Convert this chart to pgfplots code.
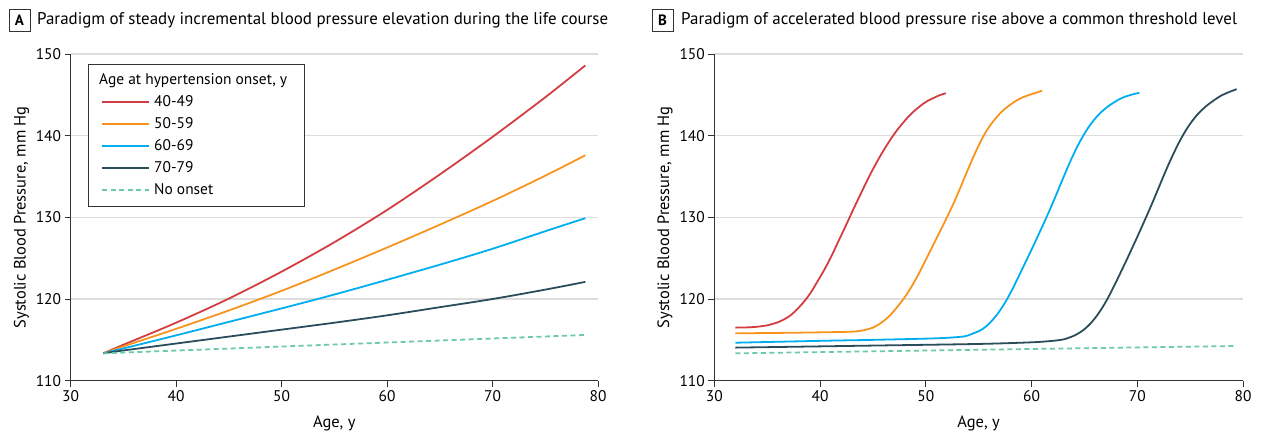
\documentclass[border=0pt]{standalone}
\usepackage{fontspec}
\setmainfont{PT Sans}
\usepackage{pgfplots}
\pgfplotsset{compat=1.18}
\definecolor{cred}{HTML}{D33D42}
\definecolor{corange}{HTML}{F7941D}
\definecolor{cblue}{HTML}{00AEEF}
\definecolor{cdark}{HTML}{2B4C5A}
\definecolor{cgreen}{HTML}{6CCBA6}
\definecolor{cgrid}{HTML}{DDDDDD}
\definecolor{caxis}{HTML}{333333}
\pgfplotsset{
  myaxis/.style={
    scale only axis, width=527.4bp, height=326.7bp,
    xmin=30, xmax=80, ymin=110, ymax=150,
    xtick={30,40,...,80}, ytick={110,120,...,150},
    axis x line*=bottom, axis y line*=left,
    axis line style={caxis, line width=0.9pt, -},
    tick style={caxis, line width=0.9pt},
    major tick length=6bp, tick align=outside,
    ymajorgrids, grid style={cgrid, line width=1.1pt},
    ticklabel style={font=\fontsize{15.5}{18}\selectfont},
    /pgf/number format/assume math mode=true,
    label style={font=\fontsize{16.5}{18}\selectfont},
    xlabel style={yshift=-8bp},
    xlabel={Age, y}, ylabel={Systolic Blood Pressure, mm Hg},
    every axis plot/.append style={line width=1.8pt, smooth},
  },
}
\begin{document}
\begin{tikzpicture}
\useasboundingbox (0,0) rectangle (1262bp,434bp);
% Panel A
\begin{axis}[myaxis, at={(70.6bp,53.3bp)}, anchor=south west,
  legend style={at={(0.033,0.9694)}, anchor=north west, draw=caxis, line width=0.8pt,
    inner xsep=13bp, inner ysep=5bp, row sep=0pt,
    nodes={font=\fontsize{15.5}{18}\selectfont, text height=11bp, text depth=3bp, inner sep=4bp}},
  legend cell align=left,
  legend image code/.code={\draw[#1, line width=1.8pt] (0bp,0bp) -- (47bp,0bp);},
]
\addlegendimage{empty legend}
\addlegendentry{\hspace{-55bp}Age at hypertension onset, y\hspace{-10bp}}
\addplot[cred] coordinates {(33.1,113.35) (35,114.4) (40,117.1) (45,120.05) (50,123.35) (55,126.95) (60,130.9) (65,135.25) (70,139.85) (75,144.7) (78.8,148.6)};
\addlegendentry{40-49}
\addplot[corange] coordinates {(33.1,113.35) (35,114.2) (40,116.35) (45,118.6) (50,121.0) (55,123.6) (60,126.3) (65,129.1) (70,132.0) (75,135.1) (78.8,137.6)};
\addlegendentry{50-59}
\addplot[cblue] coordinates {(33.1,113.35) (35,113.95) (40,115.55) (45,117.2) (50,118.85) (55,120.55) (60,122.35) (65,124.2) (70,126.15) (75,128.3) (78.8,129.9)};
\addlegendentry{60-69}
\addplot[cdark] coordinates {(33.1,113.35) (35,113.7) (40,114.55) (45,115.4) (50,116.25) (55,117.1) (60,118.0) (65,119.0) (70,120.0) (75,121.15) (78.8,122.1)};
\addlegendentry{70-79}
\addplot[cgreen, dash pattern=on 5bp off 3.5bp] coordinates {(33.1,113.35) (78.8,115.6)};
\addlegendentry{No onset}
\end{axis}
% Panel B
\begin{axis}[myaxis, width=528.7bp, at={(714.3bp,53.3bp)}, anchor=south west]
\addplot[cred] coordinates {(32,116.5) (33,116.52) (34,116.6) (35,116.78) (36,117.15) (36.8,117.65) (37.3,118.1) (37.8,118.7) (38.3,119.4) (38.8,120.2) (39.3,121.15) (39.8,122.25) (40.3,123.35) (40.8,124.55) (41.3,125.85) (41.8,127.25) (42.3,128.6) (42.8,130.0) (43.3,131.4) (43.8,132.75) (44.3,134.1) (44.8,135.4) (45.3,136.6) (45.8,137.75) (46.3,138.8) (46.8,139.8) (47.3,140.7) (47.8,141.5) (48.3,142.25) (48.8,142.9) (49.3,143.45) (49.8,143.95) (50.3,144.35) (50.8,144.65) (51.3,144.95) (51.9,145.2)};
\addplot[corange] coordinates {(32,115.8) (36,115.85) (40,115.92) (43,116.0) (44,116.15) (45,116.5) (45.8,117.1) (46.5,117.85) (47.0,118.55) (47.5,119.35) (48.0,120.2) (48.5,121.2) (49.0,122.3) (49.5,123.5) (50.0,124.8) (50.5,126.1) (51.0,127.4) (51.5,128.7) (52.0,130.0) (52.5,131.35) (53.0,132.8) (53.5,134.35) (54.0,135.9) (54.5,137.4) (55.0,138.8) (55.5,140.05) (56.0,141.1) (56.5,141.95) (57.0,142.7) (57.5,143.3) (58.0,143.8) (58.5,144.25) (59.1,144.65) (59.8,145.0) (60.4,145.25) (61.0,145.5)};
\addplot[cblue] coordinates {(32,114.65) (40,114.88) (45,115.0) (50,115.15) (52,115.25) (53.5,115.4) (54.0,115.55) (54.5,115.8) (55.15,116.15) (55.65,116.6) (56.15,117.2) (56.65,117.95) (57.15,118.85) (57.65,119.9) (58.15,121.1) (58.65,122.4) (59.15,123.75) (59.65,125.1) (60.15,126.45) (60.65,127.85) (61.15,129.25) (61.65,130.7) (62.15,132.2) (62.65,133.75) (63.15,135.3) (63.65,136.8) (64.15,138.2) (64.65,139.45) (65.15,140.55) (65.65,141.5) (66.15,142.3) (66.65,142.95) (67.15,143.5) (67.65,143.95) (68.15,144.35) (68.7,144.7) (69.4,145.0) (70.2,145.25)};
\addplot[cdark] coordinates {(32,114.05) (45,114.3) (55,114.5) (60,114.7) (62,114.88) (63.0,115.05) (63.5,115.25) (64.0,115.5) (64.5,115.85) (65.0,116.3) (65.5,116.9) (66.0,117.65) (66.5,118.55) (67.0,119.6) (67.5,120.8) (68.0,122.1) (68.5,123.45) (69.0,124.8) (69.5,126.2) (70.0,127.6) (70.5,129.05) (71.0,130.5) (71.5,132.0) (72.0,133.55) (72.5,135.1) (73.0,136.6) (73.5,138.0) (74.0,139.3) (74.5,140.45) (75.0,141.45) (75.5,142.3) (76.0,143.0) (76.5,143.6) (77.0,144.1) (77.5,144.55) (78.0,144.95) (78.7,145.35) (79.4,145.7)};
\addplot[cgreen, dash pattern=on 5bp off 3.5bp] coordinates {(32,113.35) (79.3,114.25)};
\end{axis}
% Titles
\node[draw=caxis, line width=0.8pt, minimum width=21bp, minimum height=22bp, inner sep=0pt, font=\fontsize{15}{18}\selectfont\bfseries] at (19.5bp,414bp) {A};
\node[anchor=west, inner sep=0pt, font=\fontsize{17}{18}\selectfont] at (37bp,414bp) {Paradigm of steady incremental blood pressure elevation during the life course};
\node[draw=caxis, line width=0.8pt, minimum width=21bp, minimum height=22bp, inner sep=0pt, font=\fontsize{15}{18}\selectfont\bfseries] at (662.5bp,414bp) {B};
\node[anchor=west, inner sep=0pt, font=\fontsize{17}{18}\selectfont] at (681bp,414bp) {Paradigm of accelerated blood pressure rise above a common threshold level};
\end{tikzpicture}
\end{document}
